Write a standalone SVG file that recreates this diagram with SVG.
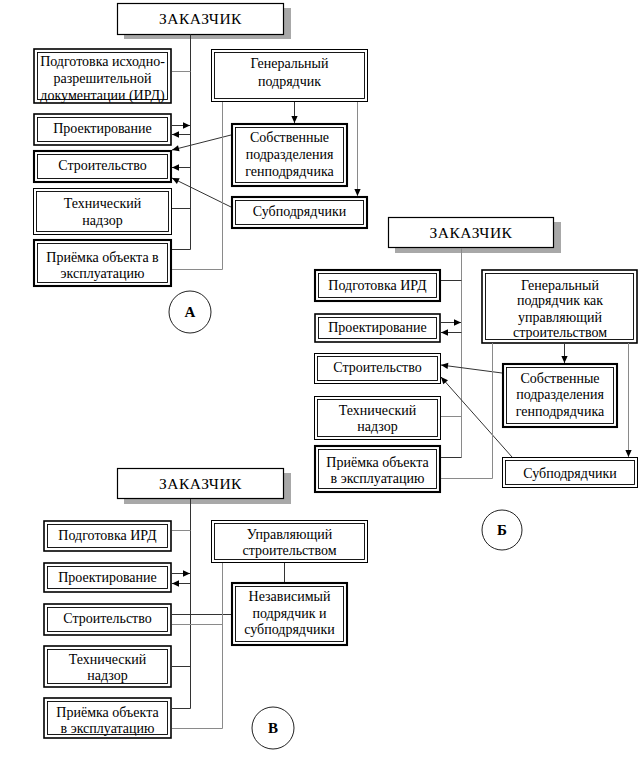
<svg xmlns="http://www.w3.org/2000/svg" width="643" height="762" viewBox="0 0 643 762">
<defs>
<marker id="ah" viewBox="0 0 10 10" refX="10" refY="5" markerWidth="8" markerHeight="7" markerUnits="userSpaceOnUse" orient="auto"><path d="M0,0.5 L10,5 L0,9.5 z" fill="#000"/></marker>
</defs>
<style>
text{font-family:"Liberation Serif","Times New Roman",serif;font-size:14px;fill:#000;text-anchor:middle}
.t15{font-size:15.5px;letter-spacing:0.5px}
.b{fill:#fff;stroke:#000}
.w1{stroke-width:1}
.w2{stroke-width:1.6}
.w3{stroke-width:2.1}
.zk{fill:#fff;stroke:#000;stroke-width:1.2}
.in{fill:none;stroke:#000;stroke-width:0.9}
.sh{fill:#a8a8a8}
.c{fill:none;stroke:#333;stroke-width:1}
.g{stroke:#8a8a8a}
.a{marker-end:url(#ah)}
.circ{fill:#fff;stroke:#222;stroke-width:1}
.lbl{font-weight:bold;font-size:15px}
</style>
<rect width="643" height="762" fill="#fff"/>

<!-- Diagram A -->
<g id="A_zak"><rect class="sh" x="124" y="8" width="167" height="31"/><rect class="zk" x="117.5" y="3.5" width="166" height="31"/><text class="t15" x="200.5" y="24">ЗАКАЗЧИК</text></g>
<g id="A_ird"><rect class="b w2" x="34" y="49" width="137" height="54"/><rect class="in" x="37.5" y="52.5" width="130" height="47"/><text x="102.5" y="66">Подготовка исходно-</text><text x="102.5" y="83">разрешительной</text><text x="102.5" y="100">документации (ИРД)</text></g>
<g id="A_proj"><rect class="b w2" x="34" y="114" width="137" height="31"/><rect class="in" x="37.5" y="117.5" width="130" height="24"/><text x="102.5" y="133">Проектирование</text></g>
<g id="A_stroi"><rect class="b w3" x="34" y="151" width="137" height="31"/><rect class="in" x="37.5" y="154.5" width="130" height="24"/><text x="102.5" y="170">Строительство</text></g>
<g id="A_tech"><rect class="b w1" x="33.5" y="188.5" width="138" height="46"/><rect class="in" x="36.5" y="191.5" width="132" height="40"/><text x="102.5" y="208">Технический</text><text x="102.5" y="225">надзор</text></g>
<g id="A_priem"><rect class="b w3" x="34" y="240" width="137" height="46"/><rect class="in" x="37.5" y="243.5" width="130" height="39"/><text x="102.5" y="262">Приёмка объекта в</text><text x="102.5" y="278">эксплуатацию</text></g>
<g id="A_gen"><rect class="b w1" x="211.5" y="49.5" width="156" height="52"/><rect class="in" x="214.5" y="52.5" width="150" height="46"/><text x="289.5" y="68">Генеральный</text><text x="289.5" y="86">подрядчик</text></g>
<g id="A_sob"><rect class="b w3" x="232" y="124" width="115" height="62"/><rect class="in" x="235.5" y="127.5" width="108" height="55"/><text x="289.5" y="142">Собственные</text><text x="289.5" y="159">подразделения</text><text x="289.5" y="176">генподрядчика</text></g>
<g id="A_sub"><rect class="b w3" x="232" y="197" width="135" height="31"/><rect class="in" x="235.5" y="200.5" width="128" height="24"/><text x="299.5" y="216">Субподрядчики</text></g>
<g id="A_label"><circle class="circ" cx="190" cy="312" r="21"/><text class="lbl" x="190" y="317">А</text></g>

<!-- Diagram B -->
<g id="B_zak"><rect class="sh" x="395" y="222" width="166" height="31"/><rect class="zk" x="388.5" y="217.5" width="165" height="30"/><text class="t15" x="471" y="238">ЗАКАЗЧИК</text></g>
<g id="B_ird"><rect class="b w3" x="315" y="270" width="125" height="31"/><rect class="in" x="318.5" y="273.5" width="118" height="24"/><text x="377.5" y="290">Подготовка ИРД</text></g>
<g id="B_proj"><rect class="b w2" x="315" y="314" width="125" height="28"/><rect class="in" x="318.5" y="317.5" width="118" height="21"/><text x="377.5" y="332">Проектирование</text></g>
<g id="B_stroi"><rect class="b w1" x="314.5" y="353.5" width="126" height="30"/><rect class="in" x="317.5" y="356.5" width="120" height="24"/><text x="377.5" y="372">Строительство</text></g>
<g id="B_tech"><rect class="b w1" x="314.5" y="396.5" width="126" height="43"/><rect class="in" x="317.5" y="399.5" width="120" height="37"/><text x="377.5" y="415">Технический</text><text x="377.5" y="431">надзор</text></g>
<g id="B_priem"><rect class="b w3" x="315" y="446" width="125" height="46"/><rect class="in" x="318.5" y="449.5" width="118" height="39"/><text x="377.5" y="467">Приёмка объекта</text><text x="377.5" y="483">в эксплуатацию</text></g>
<g id="B_gen"><rect class="b w2" x="482" y="270" width="155" height="73"/><rect class="in" x="485.5" y="273.5" width="148" height="66"/><text x="560" y="290">Генеральный</text><text x="560" y="305">подрядчик как</text><text x="560" y="322">управляющий</text><text x="560" y="337">строительством</text></g>
<g id="B_sob"><rect class="b w3" x="503" y="364" width="114" height="63"/><rect class="in" x="506.5" y="367.5" width="107" height="56"/><text x="560" y="383">Собственные</text><text x="560" y="399">подразделения</text><text x="560" y="416">генподрядчика</text></g>
<g id="B_sub"><rect class="b w1" x="502.5" y="457.5" width="135" height="30"/><rect class="in" x="505.5" y="460.5" width="129" height="24"/><text x="570" y="478">Субподрядчики</text></g>
<g id="B_label"><circle class="circ" cx="502" cy="530" r="20"/><text class="lbl" x="502" y="535">Б</text></g>

<!-- Diagram C -->
<g id="C_zak"><rect class="sh" x="124" y="473" width="167" height="31"/><rect class="zk" x="117.5" y="468.5" width="166" height="30"/><text class="t15" x="200.5" y="489">ЗАКАЗЧИК</text></g>
<g id="C_ird"><rect class="b w2" x="44" y="521" width="127" height="30"/><rect class="in" x="47.5" y="524.5" width="120" height="23"/><text x="107.5" y="540">Подготовка ИРД</text></g>
<g id="C_proj"><rect class="b w2" x="44" y="563" width="127" height="29"/><rect class="in" x="47.5" y="566.5" width="120" height="22"/><text x="107.5" y="582">Проектирование</text></g>
<g id="C_stroi"><rect class="b w2" x="44" y="604" width="127" height="31"/><rect class="in" x="47.5" y="607.5" width="120" height="24"/><text x="107.5" y="623">Строительство</text></g>
<g id="C_tech"><rect class="b w2" x="44" y="646" width="127" height="41"/><rect class="in" x="47.5" y="649.5" width="120" height="34"/><text x="107.5" y="664">Технический</text><text x="107.5" y="680">надзор</text></g>
<g id="C_priem"><rect class="b w2" x="44" y="698" width="127" height="40"/><rect class="in" x="47.5" y="701.5" width="120" height="33"/><text x="107.5" y="717">Приёмка объекта</text><text x="107.5" y="733">в эксплуатацию</text></g>
<g id="C_upr"><rect class="b w1" x="211.5" y="520.5" width="156" height="42"/><rect class="in" x="214.5" y="523.5" width="150" height="36"/><text x="289.5" y="539">Управляющий</text><text x="289.5" y="555">строительством</text></g>
<g id="C_nez"><rect class="b w3" x="232" y="583" width="115" height="62"/><rect class="in" x="235.5" y="586.5" width="108" height="55"/><text x="289.5" y="601">Независимый</text><text x="289.5" y="618">подрядчик и</text><text x="289.5" y="634">субподрядчики</text></g>
<g id="C_label"><circle class="circ" cx="273" cy="728" r="21"/><text class="lbl" x="273" y="733">В</text></g>

<g id="connectors">
<!-- A -->
<path class="c" d="M190.5 34.5 V249.5"/>
<path class="c g" d="M172 71.5 H190.5"/>
<path class="c a" d="M172 125.5 H190"/>
<path class="c a" d="M190.5 134.5 H172"/>
<path class="c a" d="M190.5 167.5 H172"/>
<path class="c a" d="M231 135 L172 150"/>
<path class="c a" d="M231 207 L172 178"/>
<path class="c" d="M172 208.5 H190.5"/>
<path class="c" d="M172 249.5 H190.5"/>
<path class="c g" d="M222.5 102 V269.5 H172"/>
<path class="c a" d="M294.5 102 V123"/>
<path class="c g a" d="M357.5 102 V196"/>
<!-- B -->
<path class="c g" d="M461.5 248 V457.5"/>
<path class="c" d="M441 280.5 H461.5"/>
<path class="c a" d="M441 322.5 H461"/>
<path class="c a" d="M461.5 332.5 H441"/>
<path class="c a" d="M502 373 L441 365"/>
<path class="c a" d="M512 457 L441 377"/>
<path class="c g" d="M441 416.5 H461.5"/>
<path class="c" d="M441 457.5 H461.5"/>
<path class="c g" d="M492.5 343 V478.5 H441"/>
<path class="c a" d="M564.5 343 V363"/>
<path class="c g a" d="M628.5 343 V457"/>
<!-- C -->
<path class="c" d="M190.5 499 V708.5"/>
<path class="c g" d="M172 530.5 H190.5"/>
<path class="c a" d="M172 573.5 H190"/>
<path class="c a" d="M190.5 583.5 H172"/>
<path class="c" d="M172 614.5 H231"/>
<path class="c g" d="M172 624.5 H222.5"/>
<path class="c g" d="M222.5 563 V728.5 H172"/>
<path class="c" d="M284.5 563 V582"/>
<path class="c" d="M172 666.5 H190.5"/>
<path class="c" d="M172 708.5 H190.5"/>
</g>
</svg>
